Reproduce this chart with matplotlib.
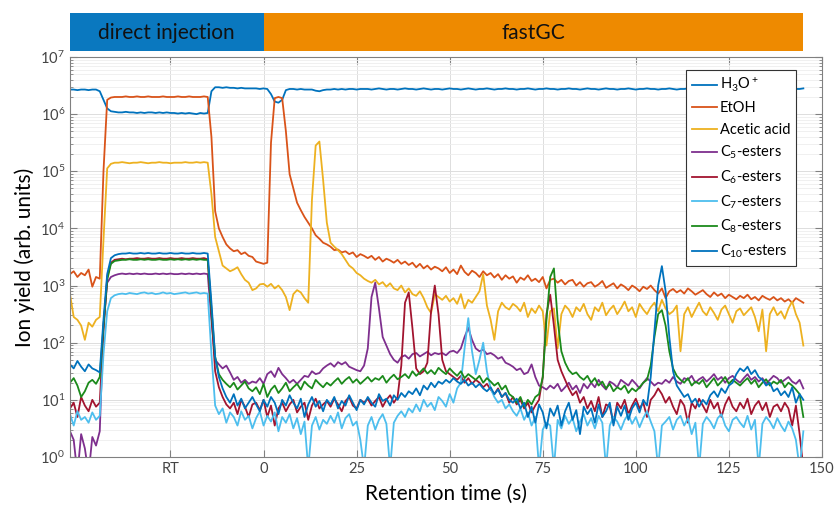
import numpy as np
import matplotlib.pyplot as plt

plt.rcParams['font.family'] = ['Lato', 'DejaVu Sans']
plt.rcParams['mathtext.fontset'] = 'custom'
plt.rcParams['mathtext.rm'] = 'Lato'
plt.rcParams['mathtext.it'] = 'Lato:italic'
plt.rcParams['mathtext.bf'] = 'Lato:bold'

# retention time (s), one sample per second, -52..0 is the direct injection part
t = np.arange(-52, 146)

# log10 of the ion yield (10 samples per row)
h3o = [6.43, 6.43, 6.42, 6.43, 6.43, 6.42, 6.43, 6.43, 6.40, 6.25,
       6.10, 6.05, 6.04, 6.03, 6.03, 6.04, 6.03, 6.03, 6.02, 6.03,
       6.02, 6.03, 6.03, 6.02, 6.03, 6.02, 6.03, 6.02, 6.02, 6.01,
       6.02, 6.01, 6.02, 6.01, 6.00, 6.02, 6.01, 6.02, 6.40, 6.47,
       6.47, 6.46, 6.47, 6.46, 6.46, 6.45, 6.46, 6.45, 6.45, 6.45,
       6.45, 6.44, 6.45, 6.44, 6.35, 6.22, 6.20, 6.25, 6.42, 6.44,
       6.44, 6.43, 6.44, 6.43, 6.43, 6.43, 6.41, 6.40, 6.42, 6.43,
       6.43, 6.44, 6.43, 6.44, 6.43, 6.44, 6.44, 6.43, 6.44, 6.44,
       6.44, 6.43, 6.44, 6.45, 6.44, 6.43, 6.44, 6.44, 6.43, 6.44,
       6.45, 6.44, 6.44, 6.43, 6.44, 6.45, 6.44, 6.43, 6.44, 6.44,
       6.43, 6.44, 6.45, 6.44, 6.44, 6.43, 6.44, 6.45, 6.44, 6.43,
       6.44, 6.44, 6.45, 6.44, 6.43, 6.44, 6.44, 6.45, 6.44, 6.44,
       6.43, 6.44, 6.44, 6.45, 6.44, 6.43, 6.44, 6.44, 6.45, 6.44,
       6.44, 6.43, 6.44, 6.44, 6.45, 6.44, 6.44, 6.43, 6.44, 6.45,
       6.44, 6.44, 6.43, 6.44, 6.45, 6.44, 6.44, 6.43, 6.44, 6.44,
       6.45, 6.44, 6.43, 6.44, 6.44, 6.45, 6.44, 6.44, 6.43, 6.44,
       6.44, 6.45, 6.44, 6.43, 6.44, 6.44, 6.45, 6.44, 6.44, 6.43,
       6.44, 6.44, 6.45, 6.44, 6.43, 6.44, 6.44, 6.45, 6.44, 6.44,
       6.43, 6.44, 6.44, 6.45, 6.44, 6.44, 6.43, 6.44, 6.45, 6.44,
       6.44, 6.43, 6.44, 6.44, 6.45, 6.44, 6.44, 6.45]

etoh = [3.20, 3.25, 3.15, 3.22, 3.18, 3.28, 2.98, 3.15, 3.12, 5.00,
        6.25, 6.29, 6.30, 6.30, 6.30, 6.31, 6.30, 6.30, 6.31, 6.30,
        6.30, 6.31, 6.30, 6.30, 6.30, 6.31, 6.30, 6.30, 6.30, 6.31,
        6.30, 6.30, 6.31, 6.30, 6.30, 6.30, 6.31, 6.30, 5.60, 4.30,
        4.00, 3.85, 3.72, 3.65, 3.60, 3.62, 3.55, 3.58, 3.52, 3.50,
        3.42, 3.40, 3.38, 3.40, 5.50, 6.28, 6.30, 6.28, 5.70, 4.95,
        4.70, 4.45, 4.32, 4.20, 4.10, 4.00, 3.88, 3.82, 3.75, 3.72,
        3.68, 3.62, 3.63, 3.58, 3.60, 3.55, 3.58, 3.50, 3.55, 3.52,
        3.48, 3.52, 3.45, 3.50, 3.42, 3.47, 3.44, 3.40, 3.45, 3.38,
        3.42, 3.36, 3.40, 3.32, 3.38, 3.30, 3.35, 3.28, 3.33, 3.30,
        3.25, 3.32, 3.22, 3.28, 3.20, 3.35, 3.24, 3.18, 3.26, 3.22,
        3.15, 3.25, 3.18, 3.22, 3.14, 3.20, 3.10, 3.18, 3.12, 3.16,
        3.05, 3.14, 3.10, 3.18, 3.08, 3.12, 3.06, 3.15, 2.95, 3.10,
        3.12, 3.05, 3.10, 3.02, 3.08, 3.10, 3.00, 3.06, 2.98, 3.04,
        3.06, 2.98, 3.02, 3.08, 2.96, 3.00, 3.04, 2.95, 3.02, 2.98,
        2.92, 3.00, 2.96, 2.90, 2.98, 2.94, 3.00, 2.92, 2.86, 2.95,
        2.78, 2.90, 2.94, 2.88, 2.92, 2.86, 2.95, 2.90, 2.84, 2.88,
        2.92, 2.85, 2.80, 2.88, 2.82, 2.86, 2.78, 2.84, 2.80, 2.76,
        2.82, 2.78, 2.84, 2.76, 2.80, 2.74, 2.82, 2.78, 2.75, 2.80,
        2.74, 2.78, 2.72, 2.76, 2.70, 2.78, 2.74, 2.70]

acetic = [2.85, 2.45, 2.40, 2.30, 2.05, 2.35, 2.28, 2.40, 2.45, 3.80,
          5.05, 5.13, 5.15, 5.15, 5.16, 5.15, 5.14, 5.15, 5.15, 5.16,
          5.15, 5.14, 5.15, 5.15, 5.16, 5.15, 5.15, 5.14, 5.15, 5.15,
          5.15, 5.16, 5.15, 5.15, 5.16, 5.15, 5.16, 5.15, 4.60, 3.85,
          3.60, 3.35, 3.30, 3.25, 3.28, 3.32, 3.20, 3.10, 3.05, 2.92,
          2.95, 3.02, 3.03, 2.98, 3.03, 2.95, 3.00, 2.92, 2.80, 2.57,
          2.85, 2.92, 2.88, 2.78, 2.70, 4.50, 5.45, 5.52, 4.85, 4.10,
          3.75, 3.68, 3.62, 3.55, 3.45, 3.35, 3.30, 3.22, 3.18, 3.12,
          3.08, 3.05, 3.10, 3.02, 3.06, 2.98, 3.04, 2.95, 2.92, 3.00,
          2.88, 2.95, 2.85, 2.82, 2.90, 2.78, 2.62, 2.52, 2.85, 2.80,
          2.75, 2.82, 2.72, 2.78, 2.68, 2.85, 2.60, 2.75, 2.70, 2.80,
          2.90, 3.20, 2.65, 2.40, 2.05, 2.55, 2.70, 2.62, 2.58, 2.68,
          2.63, 2.55, 2.70, 2.45, 2.60, 2.52, 2.65, 2.55, 1.95, 2.55,
          2.60, 1.90, 2.50, 2.65, 2.58, 2.45, 2.62, 2.55, 2.68, 2.50,
          2.40, 2.62, 2.55, 2.70, 2.48, 2.58, 2.65, 2.50, 2.60, 2.72,
          2.55, 2.62, 2.45, 2.68, 2.58, 2.50, 2.62, 2.70, 2.55, 2.75,
          2.60, 2.50, 2.55, 2.65, 1.85, 2.50, 2.62, 2.45, 2.58, 2.70,
          2.55, 2.48, 2.62, 2.52, 2.40, 2.58, 2.65, 2.50, 2.35, 2.55,
          2.60, 2.48, 2.55, 2.62, 2.45, 2.20, 2.58, 1.85, 2.50, 2.62,
          2.48, 2.55, 2.42, 2.60, 2.72, 2.50, 2.35, 1.95]

c5 = [0.45, 0.30, -0.30, 0.40, 0.15, -0.30, 0.35, 0.20, 0.45, 2.30,
      3.05, 3.15, 3.18, 3.20, 3.21, 3.20, 3.21, 3.20, 3.21, 3.20,
      3.21, 3.20, 3.20, 3.21, 3.20, 3.21, 3.20, 3.21, 3.20, 3.20,
      3.21, 3.20, 3.21, 3.20, 3.21, 3.20, 3.21, 3.20, 2.40, 1.70,
      1.62, 1.55, 1.60, 1.48, 1.35, 1.40, 1.30, 1.35, 1.28, 1.32,
      1.30, 1.38, 1.28, 1.45, 1.50, 1.40, 1.56, 1.45, 1.38, 1.30,
      1.35, 1.28, 1.35, 1.42, 1.40, 1.50, 1.45, 1.47, 1.55, 1.60,
      1.64, 1.58, 1.66, 1.62, 1.66, 1.58, 1.55, 1.52, 1.50, 1.60,
      1.90, 2.80, 3.05, 2.60, 2.10, 1.95, 1.80, 1.70, 1.65, 1.75,
      1.78, 1.72, 1.80, 1.82, 1.76, 1.80, 1.84, 1.78, 1.82, 1.80,
      1.82, 1.78, 1.84, 1.86, 1.82, 1.90, 2.10, 2.26, 2.05, 1.90,
      1.85, 1.88, 1.80, 1.82, 1.78, 1.72, 1.75, 1.65, 1.62, 1.58,
      1.52, 1.55, 1.45, 1.48, 1.62, 1.40, 1.25, 1.22, 1.18, 1.25,
      1.20, 1.28, 1.15, 1.22, 1.30, 1.18, 1.25, 1.12, 1.28, 1.20,
      1.30, 1.22, 1.35, 1.25, 1.18, 1.32, 1.28, 1.22, 1.35, 1.30,
      1.25, 1.35, 1.28, 1.20, 1.30, 1.38, 1.32, 1.25, 1.30, 1.28,
      1.35, 1.30, 1.40, 1.32, 1.28, 1.38, 1.35, 1.42, 1.30, 1.36,
      1.40, 1.32, 1.38, 1.45, 1.35, 1.40, 1.30, 1.38, 1.42, 1.35,
      1.30, 1.38, 1.45, 1.35, 1.40, 1.32, 1.38, 1.28, 1.35, 1.42,
      1.38, 1.30, 1.35, 1.40, 1.32, 1.28, 1.35, 1.20]

c6 = [0.85, 0.95, 0.70, 1.05, 0.90, 0.80, 1.00, 0.88, 0.95, 2.20,
      3.15, 3.40, 3.45, 3.46, 3.47, 3.46, 3.47, 3.47, 3.48, 3.47,
      3.47, 3.48, 3.47, 3.47, 3.48, 3.47, 3.47, 3.48, 3.47, 3.47,
      3.48, 3.47, 3.47, 3.48, 3.47, 3.47, 3.48, 3.46, 2.50, 1.50,
      1.22, 1.05, 0.92, 0.85, 0.95, 0.75, 1.00, 0.88, 0.70, 0.92,
      0.95, 0.82, 1.00, 0.70, 0.90, 0.55, 0.85, 0.95, 0.80, 0.92,
      1.00, 0.78, 0.88, 0.95, 0.65, 0.90, 1.02, 0.85, 0.92, 0.98,
      0.88, 1.02, 0.92, 0.80, 0.98, 1.05, 0.90, 0.85, 1.00, 0.95,
      1.02, 0.90, 0.98, 1.05, 0.88, 1.00, 1.08, 0.95, 1.05, 1.60,
      2.70, 2.88, 2.25, 1.55, 1.45, 1.50, 1.65, 2.55, 3.00, 2.50,
      1.70, 1.50, 1.45, 1.40, 1.35, 1.42, 1.30, 1.38, 1.28, 1.35,
      1.30, 1.22, 1.28, 1.18, 1.10, 1.20, 1.05, 1.12, 0.95, 1.05,
      0.92, 1.00, 0.85, 0.95, 0.78, 0.90, 1.00, 1.40, 2.50, 2.84,
      2.30, 1.70, 1.50, 1.35, 1.20, 1.08, 1.15, 0.95, 1.05, 0.85,
      0.98, 0.80, 1.05, 0.70, 0.92, 0.88, 0.60, 0.95, 0.85, 1.00,
      0.75, 0.90, 1.02, 0.85, 0.95, 0.70, 1.00, 1.08, 1.20, 1.10,
      0.95, 1.05, 0.88, 0.75, 1.00, 0.90, 0.60, 0.95, 0.85, 1.02,
      0.90, 0.78, 1.00, 0.85, 0.95, 0.70, 0.92, 1.05, 0.88, 0.80,
      0.95, 0.85, 1.02, 0.75, 0.90, 0.98, 0.82, 0.95, 0.70, 0.88,
      0.92, 0.80, 0.95, 0.85, 0.55, 0.90, 0.40, -0.20]

c7 = [0.75, 0.55, 0.80, 0.65, 0.70, 0.60, 0.78, 0.65, 0.72, 1.80,
      2.55, 2.78, 2.83, 2.85, 2.86, 2.85, 2.87, 2.86, 2.85, 2.87,
      2.88, 2.86, 2.87, 2.85, 2.86, 2.88, 2.86, 2.87, 2.85, 2.86,
      2.87, 2.88, 2.86, 2.87, 2.88, 2.86, 2.87, 2.86, 1.80, 0.90,
      0.75, 0.85, 0.60, 0.78, 0.70, 0.55, 0.80, 0.65, 0.72, 0.50,
      0.68, 0.80, 0.55, 0.72, 0.62, 0.78, 0.45, 0.70, 0.60, 0.75,
      0.50, 0.68, 0.40, 0.62, -0.20, 0.55, 0.70, 0.48, 0.65, 0.58,
      0.72, 0.60, 0.78, 0.50, 0.68, 0.75, 0.55, 0.62, 0.30, -0.20,
      0.55, 0.70, 0.48, 0.65, 0.75, 0.58, -0.20, 0.60, 0.72, 0.80,
      0.70, 0.85, 0.78, 0.92, 0.80, 1.00, 0.88, 0.95, 0.82, 1.05,
      0.98, 0.88, 1.10, 0.95, 1.20, 1.30, 1.90, 2.43, 1.85, 1.45,
      1.70, 2.00, 1.50, 1.20, 1.05, 0.95, 1.00, 0.85, 0.92, 0.80,
      0.72, 0.85, 0.65, 0.78, 0.55, 0.70, -0.20, 0.48, 0.60, 0.55,
      -0.20, 0.65, 0.50, 0.72, 0.58, 0.68, 0.45, 0.62, 0.75, 0.55,
      0.68, 0.50, 0.72, 0.60, -0.20, 0.55, 0.70, 0.62, 0.48, 0.65,
      0.75, 0.58, 0.70, 0.52, 0.68, 0.80, 0.62, 0.45, -0.20, 0.55,
      0.62, 0.70, 0.48, 0.65, 0.72, 0.55, 0.68, 0.40, 0.60, -0.20,
      0.58, 0.70, 0.62, 0.50, 0.68, 0.75, 0.55, 0.45, 0.65, 0.70,
      0.60, 0.52, 0.72, 0.48, 0.65, -0.20, 0.58, 0.70, 0.62, 0.50,
      0.68, 0.55, 0.45, 0.62, 0.50, 0.30, -0.20, 0.45]

c8 = [1.30, 1.38, 1.25, 1.05, 1.15, 1.30, 1.35, 1.28, 1.40, 2.30,
      3.10, 3.38, 3.43, 3.44, 3.45, 3.45, 3.46, 3.45, 3.45, 3.46,
      3.45, 3.46, 3.45, 3.45, 3.46, 3.45, 3.45, 3.46, 3.45, 3.46,
      3.45, 3.46, 3.45, 3.46, 3.45, 3.46, 3.45, 3.45, 2.60, 1.75,
      1.45, 1.35, 1.28, 1.22, 1.30, 1.18, 1.25, 1.32, 1.20, 1.15,
      1.22, 1.10, 1.28, 1.05, 1.18, 1.25, 1.12, 1.20, 1.30, 1.15,
      1.22, 1.28, 1.18, 1.32, 1.25, 1.20, 1.35, 1.28, 1.22, 1.30,
      1.25, 1.32, 1.38, 1.28, 1.35, 1.40, 1.30, 1.36, 1.28, 1.34,
      1.40, 1.32, 1.38, 1.35, 1.42, 1.30, 1.38, 1.44, 1.36, 1.40,
      1.45, 1.38, 1.50, 1.42, 1.48, 1.55, 1.46, 1.52, 1.45, 1.56,
      1.50, 1.45, 1.55, 1.48, 1.42, 1.50, 1.38, 1.45, 1.40, 1.35,
      1.42, 1.30, 1.38, 1.32, 1.25, 1.30, 1.18, 1.25, 1.10, 1.05,
      0.95, 1.05, 0.88, 1.00, 0.92, 1.05, 1.10, 1.40, 2.40, 3.15,
      3.30, 2.40, 1.85, 1.65, 1.52, 1.45, 1.48, 1.40, 1.35, 1.42,
      1.30, 1.38, 1.25, 1.32, 1.20, 1.28, 1.15, 1.22, 1.18, 1.25,
      1.12, 1.20, 1.15, 1.22, 1.30, 1.35, 1.60, 2.10, 2.50, 2.57,
      2.30, 1.85, 1.55, 1.42, 1.35, 1.30, 1.38, 1.25, 1.32, 1.28,
      1.35, 1.22, 1.30, 1.38, 1.25, 1.32, 1.40, 1.28, 1.35, 1.30,
      1.25, 1.32, 1.38, 1.28, 1.35, 1.22, 1.30, 1.36, 1.25, 1.32,
      1.28, 1.35, 1.22, 1.30, 1.25, 1.18, 1.10, 0.70]

c10 = [1.62, 1.55, 1.68, 1.58, 1.50, 1.62, 1.55, 1.52, 1.48, 2.40,
       3.20, 3.48, 3.53, 3.55, 3.56, 3.56, 3.57, 3.56, 3.56, 3.57,
       3.56, 3.57, 3.56, 3.56, 3.57, 3.56, 3.56, 3.57, 3.56, 3.56,
       3.57, 3.56, 3.56, 3.57, 3.56, 3.56, 3.57, 3.56, 2.70, 1.75,
       1.40, 1.20, 1.05, 0.95, 1.10, 0.90, 1.02, 0.85, 0.95, 1.05,
       0.92, 0.80, 1.00, 0.88, 1.05, 0.95, 0.75, 1.00, 0.90, 1.08,
       0.95, 0.85, 1.02, 0.70, 0.92, 1.05, 0.88, 0.98, 0.80, 1.00,
       0.92, 1.05, 0.85, 0.98, 0.90, 1.08, 0.95, 0.82, 1.00, 0.92,
       1.05, 0.95, 0.88, 1.10, 0.98, 1.02, 0.90, 1.08, 1.00, 1.12,
       1.05, 1.15, 1.10, 1.20, 1.08, 1.25, 1.18, 1.30, 1.22, 1.32,
       1.28, 1.35, 1.30, 1.38, 1.32, 1.28, 1.35, 1.25, 1.30, 1.22,
       1.28, 1.20, 1.15, 1.22, 1.10, 1.18, 1.05, 1.12, 1.00, 0.95,
       1.02, 0.85, 0.95, 0.70, 0.88, 0.60, 0.92, 0.78, 0.50, 0.85,
       0.72, 0.90, 0.55, 0.80, 0.95, 0.65, 0.82, 0.40, 0.88, 0.75,
       0.85, 0.60, 0.92, 0.70, 0.80, 0.95, 0.55, 0.88, 0.72, 0.90,
       0.65, 0.85, 0.95, 0.78, 1.00, 0.90, 1.40, 2.20, 3.00, 3.34,
       2.90, 2.10, 1.50, 1.25, 1.15, 1.05, 1.10, 0.95, 1.02, 0.88,
       1.00, 0.92, 1.08, 1.15, 1.05, 1.20, 1.12, 1.25, 1.30, 1.45,
       1.55, 1.50, 1.58, 1.45, 1.52, 1.40, 1.35, 1.25, 1.30, 1.15,
       1.20, 1.08, 1.15, 1.05, 1.22, 0.95, 1.10, 1.00]

labels = ['H$_3$O$^+$', 'EtOH', 'Acetic acid', 'C$_5$-esters', 'C$_6$-esters',
          'C$_7$-esters', 'C$_8$-esters', 'C$_{10}$-esters']
colors = ['#0072BD', '#D95319', '#EDB120', '#7E2F8E', '#A2142F',
          '#4DBEEE', '#1B8A1B', '#0072BD']
data = [h3o, etoh, acetic, c5, c6, c7, c8, c10]

phases = ['direct injection', 'fastGC']
phase_start = [-52, 0]
phase_end = [0, 145]
phase_colors = ['#0A78BF', '#EE8A00']

xticks = [-25, 0, 25, 50, 75, 100, 125, 150]
xticklabels = ['RT', '0', '25', '50', '75', '100', '125', '150']
ydecades = [0, 1, 2, 3, 4, 5, 6, 7]

fig = plt.figure(figsize=(8.36, 5.11), dpi=100)
ax = fig.add_axes([0.0837, 0.1057, 0.8995, 0.7828])

for v, lab, c in zip(data, labels, colors):
    ax.plot(t, 10 ** np.array(v), color=c, lw=1.3, label=lab)

ax.set_yscale('log')
ax.set_ylim(1, 1e7)
ax.set_xlim(-52, 150)
ax.set_xticks(xticks)
ax.set_xticklabels(xticklabels)
ax.set_yticks([10.0 ** d for d in ydecades])
ax.set_yticklabels([r'$\mathregular{10^{%d}}$' % d for d in ydecades])

ax.grid(True, which='major', color='#dddddd', lw=0.7)
ax.grid(True, which='minor', axis='y', color='#eeeeee', lw=0.6)
ax.set_axisbelow(True)
ax.tick_params(which='both', direction='in', top=True, right=True,
               colors='#808080', labelcolor='#444444', labelsize=10.5)
ax.tick_params(which='major', length=5)
ax.tick_params(which='minor', length=2.5)
for s in ax.spines.values():
    s.set_color('#808080')

ax.set_xlabel('Retention time (s)', fontsize=15, labelpad=6)
ax.set_ylabel('Ion yield (arb. units)', fontsize=15)

leg = ax.legend(loc='upper right', bbox_to_anchor=(0.9654, 0.9675),
                borderaxespad=0, fontsize=10.5, handlelength=1.7,
                handletextpad=0.2, labelspacing=0.5, borderpad=0.4,
                fancybox=False, framealpha=1)
leg.get_frame().set_edgecolor('#333333')
leg.get_frame().set_linewidth(0.8)

# phase banner above the axes, same x scale
bax = fig.add_axes([0.0837, 0.900, 0.8995, 0.0744])
bax.set_xlim(ax.get_xlim())
bax.set_ylim(0, 1)
for name, x0, x1, c in zip(phases, phase_start, phase_end, phase_colors):
    bax.axvspan(x0, x1, color=c, lw=0)
    bax.text((x0 + x1) / 2, 0.48, name, ha='center', va='center',
             fontsize=15, color='#111111')
bax.axis('off')

fig.savefig('out.png', dpi=100)
